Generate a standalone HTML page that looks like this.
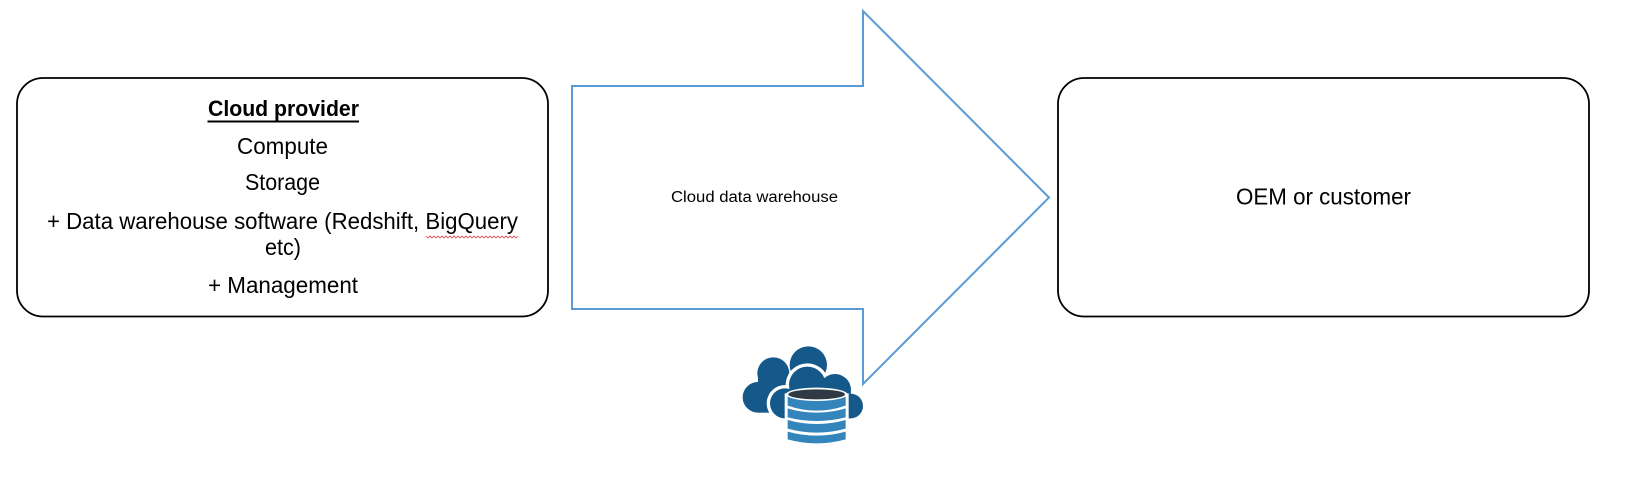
<!DOCTYPE html>
<html><head><meta charset="utf-8"><style>
html,body{margin:0;padding:0;background:#fff;width:1636px;height:479px;overflow:hidden}
svg{display:block}
text{font-family:"Liberation Sans",sans-serif;fill:#000;text-anchor:start}
</style></head><body>
<svg width="1636" height="479" viewBox="0 0 1636 479" xmlns="http://www.w3.org/2000/svg">
<rect x="17" y="78" width="531" height="238.5" rx="26" fill="#fff" stroke="#000" stroke-width="1.800"/>
<rect x="1058" y="78" width="531" height="238.5" rx="26" fill="#fff" stroke="#000" stroke-width="1.800"/>
<polygon points="572,86 863,86 863,11 1049,197.5 863,384 863,309 572,309" fill="#fff" stroke="#5b9bd5" stroke-width="2"/>
<text x="208" y="116" font-size="22.500" font-weight="bold" textLength="151" lengthAdjust="spacingAndGlyphs">Cloud provider</text>
<rect x="207.500" y="120.500" width="151.500" height="2" fill="#000"/>
<text x="237" y="154" font-size="23" textLength="91" lengthAdjust="spacingAndGlyphs">Compute</text>
<text x="245" y="190" font-size="23" textLength="75" lengthAdjust="spacingAndGlyphs">Storage</text>
<text x="47" y="229" font-size="23" textLength="471" lengthAdjust="spacingAndGlyphs">+ Data warehouse software (Redshift, BigQuery</text>
<text x="265" y="255" font-size="23" textLength="36" lengthAdjust="spacingAndGlyphs">etc)</text>
<text x="208" y="293" font-size="23" textLength="150" lengthAdjust="spacingAndGlyphs">+ Management</text>
<polyline points="426,236 428,238 430,236 432,238 434,236 436,238 438,236 440,238 442,236 444,238 446,236 448,238 450,236 452,238 454,236 456,238 458,236 460,238 462,236 464,238 466,236 468,238 470,236 472,238 474,236 476,238 478,236 480,238 482,236 484,238 486,236 488,238 490,236 492,238 494,236 496,238 498,236 500,238 502,236 504,238 506,236 508,238 510,236 512,238 514,236 516,238 518,236" fill="none" stroke="#e0484f" stroke-width="0.8"/>
<text x="671" y="202" font-size="15.500" textLength="167" lengthAdjust="spacingAndGlyphs">Cloud data warehouse</text>
<text x="1236" y="204.500" font-size="23" textLength="175" lengthAdjust="spacingAndGlyphs">OEM or customer</text>
<g transform="translate(730,340) scale(.33333)">
<g fill="#14598a">
<circle cx="84" cy="172" r="46"/><circle cx="130" cy="100" r="48"/><circle cx="235" cy="75" r="56"/>
<rect x="84" y="100" width="200" height="118"/>
</g>
<g fill="#fff">
<circle cx="165" cy="190" r="55"/><circle cx="232" cy="135" r="65"/><circle cx="315" cy="150" r="58"/>
<rect x="165" y="140" width="210" height="110"/>
</g>
<g fill="#14598a">
<circle cx="165" cy="190" r="45"/><circle cx="232" cy="135" r="55"/><circle cx="315" cy="150" r="48"/><circle cx="362" cy="198" r="37"/>
<rect x="165" y="150" width="197" height="85"/>
</g>
<path d="M164 160 V306 Q260 330 356 306 V160Z" fill="#fff"/>
<path d="M173 163 H347 V197 Q260 227 173 197Z" fill="#3585bd"/>
<path d="M173 205 Q260 231 347 205 V232 Q260 254 173 232Z" fill="#3585bd"/>
<path d="M173 240 Q260 264 347 240 V266 Q260 290 173 266Z" fill="#3585bd"/>
<path d="M173 275 Q260 299 347 275 V298 Q260 322 173 298Z" fill="#3585bd"/>
<ellipse cx="260" cy="163" rx="92" ry="20" fill="#fff"/>
<ellipse cx="260" cy="163" rx="85" ry="15" fill="#2f3a45"/>
</g>
</svg>
</body></html>
